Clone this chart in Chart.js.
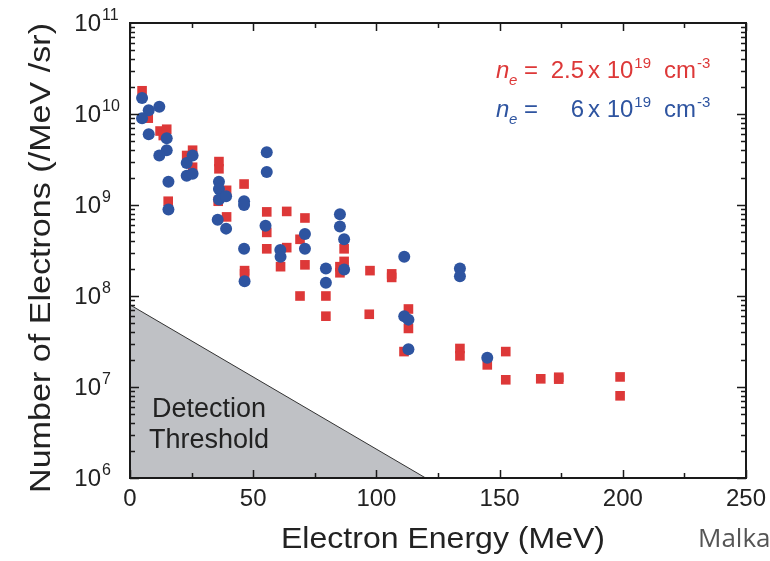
<!DOCTYPE html>
<html><head><meta charset="utf-8">
<script src="https://cdn.jsdelivr.net/npm/chart.js@4.4.1/dist/chart.umd.min.js"></script>
<style>html,body{margin:0;padding:0;background:#fff}#wrap{width:770px;height:561px;position:relative}</style>
</head><body><div id="wrap"><canvas id="c" width="770" height="561"></canvas></div>
<script>
// ---- data ----
const xTickValues = [0, 50, 100, 150, 200, 250];
const yDecades = [6, 7, 8, 9, 10, 11];
const xTitle = "Electron Energy (MeV)";
const yTitle = "Number of Electrons (/MeV /sr)";
const redLabel = "2.5";   // n_e = 2.5 x 10^19 cm^-3
const blueLabel = "6";    // n_e = 6 x 10^19 cm^-3

const redEnergy = [4.9,7.4,12.2,14.9,13.5,15.5,23,25.4,25.4,36.1,36.1,39.2,35.8,39.2,46.3,55.5,55.5,55.5,63.6,63.6,71,69,61.1,71,46.5,46.5,86.9,86.9,85.2,85.2,97.4,106.2,106.2,69,79.5,113,113,79.5,97.1,111.2,133.9,133.9,145,152.5,152.5,166.7,174,174,198.9,198.9];
const redCount  = [1.8e10,9e9,6.5e9,6.8e9,5.8e9,1.1e9,3.5e9,4.0e9,2.6e9,3.0e9,2.5e9,1.45e9,1.1e9,7.4e8,1.7e9,8.4e8,5.0e8,3.3e8,8.5e8,3.4e8,7.2e8,4.2e8,2.1e8,2.2e8,1.9e8,1.75e8,3.3e8,2.4e8,2.1e8,1.8e8,1.9e8,1.75e8,1.6e8,1.0e8,1.0e8,7.2e7,4.4e7,6e7,6.3e7,2.45e7,2.65e7,2.2e7,1.75e7,2.45e7,1.2e7,1.23e7,1.28e7,1.22e7,1.29e7,8e6];

const blueEnergy = [4.9,7.6,11.9,4.9,7.6,14.9,14.9,11.9,15.6,15.6,23,25.4,23,25.4,36.1,36.1,36.1,39,46.3,46.3,35.6,39,55.5,55.5,55,71,46.3,61,71,46.5,61.1,85.2,85.2,86.9,79.5,79.5,86.9,111.3,133.9,133.9,111.3,113,113,145];
const blueCount  = [1.5e10,1.1e10,1.2e10,9e9,6e9,5.4e9,4e9,3.5e9,1.8e9,8.9e8,2.9e9,3.5e9,2.1e9,2.2e9,1.8e9,1.5e9,1.15e9,1.25e9,1.1e9,1.0e9,6.9e8,5.5e8,3.8e9,2.3e9,5.9e8,4.8e8,3.3e8,3.2e8,3.3e8,1.45e8,2.7e8,7.9e8,5.8e8,4.2e8,2e8,1.4e8,1.95e8,2.7e8,2e8,1.65e8,6e7,5.5e7,2.6e7,2.1e7];

const thresholdEnergy = [0, 120];
const thresholdCount  = [8e7, 1e6];

// ---- build ----
const pts = (xs, ys) => xs.map((x, i) => ({x: x, y: ys[i]}));
const RED = 'rgb(221,56,56)';
const BLUE = 'rgb(46,84,160)';
const INK = '#222';
const FONT = '"Liberation Sans", Arial, sans-serif';

const deco = {
  id: 'deco',
  afterDraw(chart) {
    const ctx = chart.ctx;
    const xs = chart.scales.x, ys = chart.scales.y;
    const a = chart.chartArea;
    ctx.save();
    ctx.strokeStyle = '#1a1a1a';
    // ticks
    ctx.lineWidth = 1.5;
    ctx.beginPath();
    for (let v = 0; v <= 250; v += 25) {
      const px = Math.round(xs.getPixelForValue(v)) + 0.5;
      const len = (v % 50 === 0) ? 8 : 5;
      ctx.moveTo(px, a.bottom); ctx.lineTo(px, a.bottom - len);
      ctx.moveTo(px, a.top); ctx.lineTo(px, a.top + len);
    }
    for (let d = 6; d < 11; d++) {
      for (let m = 1; m <= 9; m++) {
        const py = Math.round(ys.getPixelForValue(m * Math.pow(10, d))) + 0.5;
        const len = m === 1 ? 9 : 5;
        ctx.moveTo(a.left, py); ctx.lineTo(a.left + len, py);
        ctx.moveTo(a.right, py); ctx.lineTo(a.right - len, py);
      }
    }
    ctx.stroke();
    // box
    ctx.lineWidth = 2;
    ctx.strokeRect(a.left, a.top, a.right - a.left, a.bottom - a.top);

    ctx.fillStyle = INK;
    // x tick labels
    ctx.font = '24px ' + FONT;
    ctx.textAlign = 'center'; ctx.textBaseline = 'middle';
    xTickValues.forEach(v => ctx.fillText(String(v), xs.getPixelForValue(v), 499));
    // y tick labels 10^n
    yDecades.forEach(d => {
      const py = ys.getPixelForValue(Math.pow(10, d));
      ctx.font = '24px ' + FONT;
      ctx.textAlign = 'right'; ctx.textBaseline = 'middle';
      ctx.fillText('10', 101, py + 1);
      ctx.font = '16px ' + FONT;
      ctx.textAlign = 'left'; ctx.textBaseline = 'alphabetic';
      ctx.fillText(String(d), 102, py - 3);
    });
    // titles
    const stretchText = (txt, font, cx, cy, targetW, rot) => {
      ctx.save();
      ctx.font = font;
      const w = ctx.measureText(txt).width;
      ctx.translate(cx, cy);
      if (rot) ctx.rotate(rot);
      ctx.scale(targetW / w, 1);
      ctx.textAlign = 'center'; ctx.textBaseline = 'middle';
      ctx.fillText(txt, 0, 0);
      ctx.restore();
    };
    stretchText(xTitle, '29px ' + FONT, 443, 540, 324, 0);
    stretchText(yTitle, '30px ' + FONT, 42, 258, 470, -Math.PI / 2);

    // threshold label
    ctx.font = '27px ' + FONT;
    ctx.textAlign = 'center'; ctx.textBaseline = 'middle';
    ctx.fillText('Detection', 209, 410);
    ctx.fillText('Threshold', 209, 441);

    // legend text
    const legendLine = (color, num, base) => {
      ctx.fillStyle = color;
      ctx.textBaseline = 'alphabetic';
      ctx.textAlign = 'left';
      ctx.font = 'italic 24px ' + FONT;
      ctx.fillText('n', 496, base);
      ctx.font = 'italic 15px ' + FONT;
      ctx.fillText('e', 509, base + 7);
      ctx.font = '24px ' + FONT;
      ctx.fillText('=', 524, base);
      ctx.textAlign = 'right';
      ctx.fillText(num, 584, base);
      ctx.textAlign = 'left';
      ctx.fillText('x 10', 588, base);
      let x = 588 + ctx.measureText('x 10').width + 1;
      ctx.font = '15px ' + FONT;
      ctx.fillText('19', x, base - 10);
      ctx.font = '24px ' + FONT;
      ctx.fillText('cm', 664, base);
      x = 664 + ctx.measureText('cm').width + 1;
      ctx.font = '15px ' + FONT;
      ctx.fillText('-3', x, base - 10);
    };
    legendLine(RED, redLabel, 78);
    legendLine(BLUE, blueLabel, 117);

    // source credit
    ctx.fillStyle = '#555';
    ctx.font = '26px "Open Sans", sans-serif';
    ctx.textAlign = 'left'; ctx.textBaseline = 'middle';
    ctx.fillText('Malka', 698, 540);
    ctx.restore();
  }
};

new Chart(document.getElementById('c'), {
  type: 'scatter',
  data: {
    datasets: [
      { label: 'ne = 6e19', data: pts(blueEnergy, blueCount), order: 0,
        pointStyle: 'circle', pointRadius: 6, pointHoverRadius: 6,
        backgroundColor: BLUE, borderWidth: 0 },
      { label: 'ne = 2.5e19', data: pts(redEnergy, redCount), order: 1,
        pointStyle: 'rect', pointRadius: 6.8, pointHoverRadius: 6.8,
        backgroundColor: RED, borderWidth: 0 },
      { label: 'Detection Threshold', data: pts(thresholdEnergy, thresholdCount), order: 2,
        showLine: true, fill: 'start', pointRadius: 0, borderWidth: 1,
        borderColor: '#333', backgroundColor: 'rgb(191,193,197)' }
    ]
  },
  options: {
    responsive: false, animation: false,
    layout: { padding: { left: 130, right: 24, top: 23, bottom: 83 } },
    plugins: { legend: { display: false }, tooltip: { enabled: false } },
    scales: {
      x: { type: 'linear', min: 0, max: 250, display: false },
      y: { type: 'logarithmic', min: 1e6, max: 1e11, display: false }
    }
  },
  plugins: [deco]
});
</script>
</body></html>
